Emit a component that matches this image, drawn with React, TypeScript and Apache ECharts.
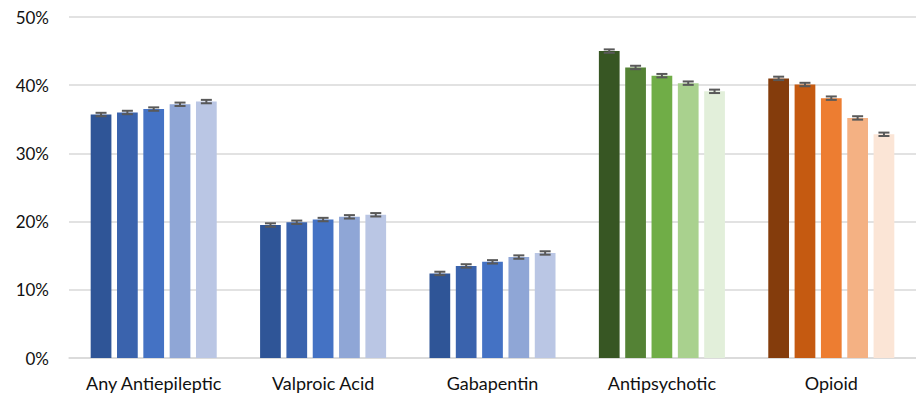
import React, { useEffect, useRef } from "react";
import * as echarts from "echarts";

const categories = ["Any Antiepileptic", "Valproic Acid", "Gabapentin", "Antipsychotic", "Opioid"];
const anyAntiepileptic = [35.7, 36.0, 36.5, 37.2, 37.6];
const valproicAcid = [19.5, 19.9, 20.3, 20.7, 21.0];
const gabapentin = [12.4, 13.5, 14.1, 14.8, 15.4];
const antipsychotic = [45.0, 42.6, 41.4, 40.3, 39.1];
const opioid = [41.0, 40.1, 38.1, 35.2, 32.8];
const errorMargin = [0.25, 0.25, 0.25, 0.25, 0.25];
const yTicks = [0, 10, 20, 30, 40, 50];

const groups = [anyAntiepileptic, valproicAcid, gabapentin, antipsychotic, opioid];

const blues = ["#2F5597", "#3A63AD", "#4472C4", "#8FA6D6", "#BAC6E4"];
const greens = ["#375623", "#548235", "#70AD47", "#A9D18E", "#E2EFDA"];
const oranges = ["#843C0C", "#C55A11", "#ED7D31", "#F4B183", "#FBE5D6"];
const palette = [blues, blues, blues, greens, oranges];

const CAT_GAP = 0.256;
const BAR_GAP = 0.27;
const N = 5;

export default function App() {
  const ref = useRef<HTMLDivElement>(null);
  useEffect(() => {
    document.body.style.margin = "0";
    if (!ref.current) return;
    const chart = echarts.init(ref.current, null, { renderer: "svg" });
    const series: any[] = [];
    for (let i = 0; i < N; i++) {
      series.push({
        type: "bar",
        barCategoryGap: (CAT_GAP * 100).toFixed(1) + "%",
        barGap: (BAR_GAP * 100).toFixed(0) + "%",
        data: categories.map((_, ci) => ({
          value: groups[ci][i],
          itemStyle: { color: palette[ci][i] },
        })),
      });
    }
    for (let i = 0; i < N; i++) {
      series.push({
        type: "custom",
        z: 5,
        encode: { x: 0, y: [1, 2] },
        data: categories.map((_, ci) => [ci, groups[ci][i] - errorMargin[ci], groups[ci][i] + errorMargin[ci]]),
        renderItem: (params: any, api: any) => {
          const ci = api.value(0);
          const lo = api.coord([ci, api.value(1)]);
          const hi = api.coord([ci, api.value(2)]);
          const band = api.size([1, 0])[0];
          const bw = (band * (1 - CAT_GAP)) / (N + (N - 1) * BAR_GAP);
          const x = lo[0] + (i - (N - 1) / 2) * bw * (1 + BAR_GAP);
          const half = 5.5;
          const style = { stroke: "#595959", lineWidth: 2 };
          return {
            type: "group",
            children: [
              { type: "line", shape: { x1: x, y1: lo[1], x2: x, y2: hi[1] }, style },
              { type: "line", shape: { x1: x - half, y1: lo[1], x2: x + half, y2: lo[1] }, style },
              { type: "line", shape: { x1: x - half, y1: hi[1], x2: x + half, y2: hi[1] }, style },
            ],
          };
        },
      });
    }
    chart.setOption({
      animation: false,
      grid: { left: 69, right: 0, top: 17, bottom: 44, containLabel: false },
      xAxis: {
        type: "category",
        data: categories,
        axisTick: { show: false },
        axisLine: { lineStyle: { color: "#d9d9d9", width: 1.5 } },
        axisLabel: { interval: 0, fontFamily: "Lato", fontSize: 18, color: "#111", margin: 16 },
      },
      yAxis: {
        type: "value",
        min: yTicks[0],
        max: yTicks[yTicks.length - 1],
        interval: 10,
        axisLine: { show: false },
        axisTick: { show: false },
        splitLine: { lineStyle: { color: "#d9d9d9", width: 1.5 } },
        axisLabel: { fontFamily: "Lato", fontSize: 17, color: "#111", margin: 20, formatter: "{value}%" },
      },
      series,
    });
    return () => chart.dispose();
  }, []);
  return <div ref={ref} style={{ width: 916, height: 402 }} />;
}
